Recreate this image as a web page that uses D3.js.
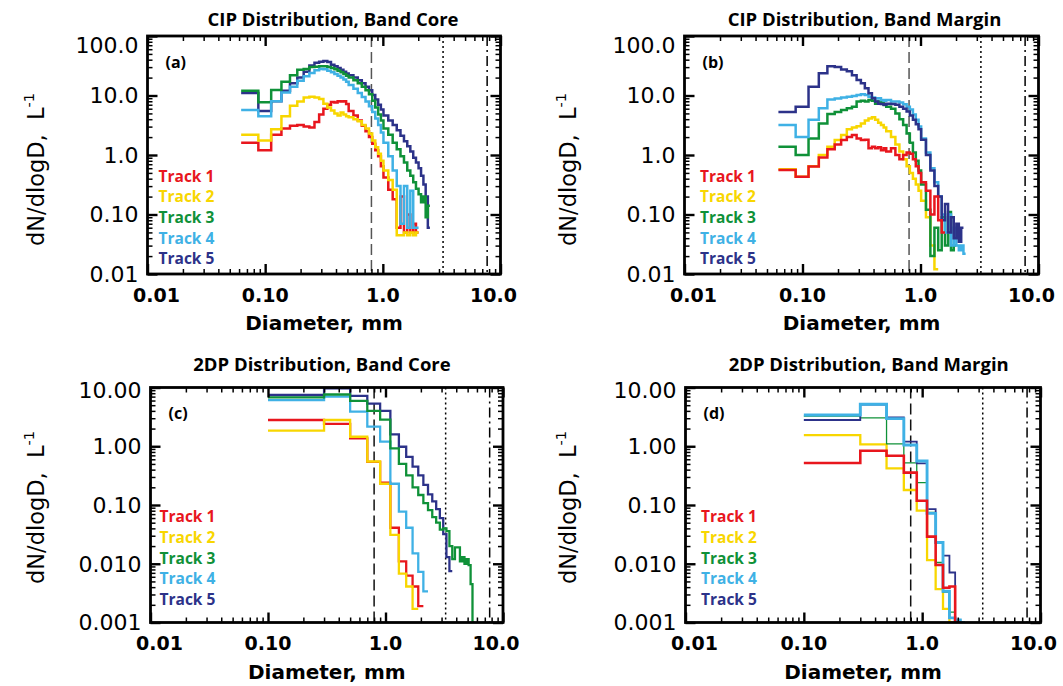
<!DOCTYPE html>
<html>
<head>
<meta charset="utf-8">
<script src="https://cdn.jsdelivr.net/npm/d3@7"></script>
<style>
  body { margin: 0; background: #fff; }
</style>
</head>
<body>
<div id="chart"></div>
<script>
// CIP bin edges (mm), 25 um bins then merged
var cipEdges = [0.0625, 0.0875, 0.1125, 0.1375, 0.1625, 0.1875, 0.2125, 0.2375, 0.2625, 0.2875,
  0.3125, 0.3375, 0.3625, 0.3875, 0.4125, 0.4375, 0.4625, 0.4875, 0.5125,
  0.5625, 0.6125, 0.6625, 0.7125, 0.7625, 0.8125, 0.8625, 0.9125, 0.9625, 1.0125,
  1.1125, 1.2125, 1.3125, 1.4125, 1.5125, 1.6125, 1.7125, 1.8125, 1.9125, 2.0125,
  2.1125, 2.2125, 2.3125, 2.4125, 2.5125];
// 2DP bin edges (mm), 200 um bins
var dpEdges = [0.1, 0.3, 0.5, 0.7, 0.9, 1.1, 1.3, 1.5, 1.7, 1.9, 2.1, 2.3, 2.5, 2.7, 2.9,
  3.1, 3.3, 3.5, 3.7, 3.9, 4.1, 4.3, 4.5, 4.7, 4.9, 5.1, 5.3, 5.5, 5.7];

var trackNames = ['Track 1', 'Track 2', 'Track 3', 'Track 4', 'Track 5'];
var trackColors = ['#e8161d', '#f8d600', '#0f9138', '#3fb1e5', '#2c3289'];

// dN/dlogD (L^-1) per bin, one row per track
var cipCore = [
  [1.6, 1.2, 2.2, 2.8, 3.1, 3.2, 3.0, 2.9, 3.6, 4.8, 6.0, 7.0, 7.8, 7.6, 8.0, 7.9, 8.0, 7.2,
   5.5, 4.6, 3.8, 3.1, 2.5, 2.0, 1.55, 1.2, 0.95, 0.65, 0.42, 0.26, 0.18, 0.06, 0.2, 0.05, 0.1, 0.05, 0.07, 0.05],
  [2.2, 1.75, 2.7, 4.5, 6.7, 7.9, 9.3, 9.5, 9.3, 8.7, 7.3, 6.3, 5.6, 5.0, 4.6, 5.2, 4.8, 4.5,
   4.3, 4.0, 3.7, 3.2, 2.8, 2.3, 1.75, 1.35, 1.05, 0.8, 0.55, 0.38, 0.26, 0.045, 0.045, 0.05, 0.045, 0.05, 0.045, 0.05],
  [12, 7.7, 12.4, 17, 22, 27, 28, 30, 30.5, 31, 31, 30, 29, 27.5, 26, 24.5, 23, 21.5,
   20, 18, 16, 14, 12.3, 10.5, 8.2, 6.3, 4.8, 3.8, 2.8, 2.2, 1.6, 1.25, 0.95, 0.75, 0.55, 0.45, 0.35, 0.27,
   0.22, 0.16, 0.2, 0.09, 0.14],
  [5.7, 4.5, 8.0, 11.2, 14, 17.7, 21, 24, 26.5, 28, 27.5, 26, 24.5, 23, 21.5, 20, 18.5, 17,
   15, 13, 11, 9.4, 7.9, 6.6, 5.3, 4.1, 3.2, 2.4, 1.6, 0.95, 0.55, 0.3, 0.07, 0.3, 0.06, 0.25, 0.06, 0.06],
  [11, 5.5, 8.0, 12, 16, 20, 25, 32, 35.5, 37, 38, 36.5, 33, 31, 29, 27, 25, 23.5,
   22, 20, 18, 16, 14, 12.2, 10.2, 8.6, 7.0, 5.8, 4.6, 3.8, 3.2, 2.6, 2.1, 1.7, 1.4, 1.15, 0.9, 0.75,
   0.6, 0.45, 0.32, 0.2, 0.06]
];

var cipMargin = [
  [0.56, 0.43, 0.64, 0.91, 1.25, 1.5, 1.79, 2.0, 2.17, 1.9, 1.79, 1.8, 1.3, 1.38, 1.3, 1.35, 1.2, 1.3,
   1.15, 1.3, 1.0, 0.85, 1.0, 1.1, 1.05, 0.85, 0.65, 0.5, 0.35, 0.25, 0.1, 0.2, 0.08, 0.05],
  [0.575, 0.43, 0.65, 1.0, 1.38, 1.79, 2.17, 2.7, 2.9, 3.05, 3.4, 3.8, 4.1, 4.3, 3.9, 3.5, 3.2, 2.9,
   2.5, 2.0, 1.5, 1.15, 0.85, 0.65, 0.5, 0.4, 0.32, 0.25, 0.17, 0.09, 0.03, 0.012],
  [1.38, 1.0, 1.9, 3.4, 4.9, 5.3, 5.7, 6.1, 6.5, 7.9, 8.2, 7.9, 8.4, 8.2, 7.3, 7.9, 7.6, 6.9,
   6.5, 6.0, 5.0, 4.0, 3.2, 2.3, 1.6, 1.1, 0.8, 0.55, 0.32, 0.12, 0.02, 0.06, 0.025, 0.09, 0.03, 0.11, 0.025, 0.03],
  [3.2, 2.0, 3.9, 6.1, 8.6, 8.9, 9.3, 9.5, 9.8, 10.2, 10.5, 10.2, 9.5, 9.3, 8.9, 9.0, 8.4, 8.2,
   8.4, 7.9, 7.9, 7.6, 7.1, 6.5, 5.8, 4.8, 3.9, 3.0, 1.9, 1.1, 0.6, 0.35, 0.2, 0.1, 0.05, 0.1, 0.03, 0.06,
   0.03, 0.025, 0.03, 0.022],
  [5.3, 6.5, 14, 23.6, 31, 30, 27.3, 25.5, 22, 18.2, 16, 13.2, 10.9, 9.0, 7.9, 7.3, 7.2, 7.0,
   7.3, 7.2, 7.0, 6.5, 6.0, 5.4, 4.6, 3.9, 3.3, 2.7, 1.8, 1.0, 0.55, 0.3, 0.2, 0.08, 0.15, 0.05, 0.09, 0.04,
   0.07, 0.035, 0.06]
];

var dpCore = [
  [2.8, 2.4, 1.36, 0.54, 0.24, 0.041, 0.011, 0.0063, 0.0041, 0.0019],
  [1.84, 2.8, 1.45, 0.55, 0.23, 0.031, 0.0068, 0.0041, 0.0017],
  [6.8, 7.6, 5.9, 4.0, 2.85, 0.92, 0.5, 0.32, 0.2, 0.148, 0.108, 0.082, 0.062, 0.05, 0.038, 0.04,
   0.036, 0.02, 0.012, 0.019, 0.019, 0.011, 0.013, 0.01, 0.012, 0.0095, 0.0045, 0],
  [6.1, 7.0, 3.9, 2.15, 1.2, 0.23, 0.077, 0.041, 0.015, 0.0073, 0.0034],
  [7.45, 9.7, 7.2, 5.3, 4.0, 1.59, 0.98, 0.66, 0.45, 0.32, 0.22, 0.152, 0.115, 0.085, 0.06, 0.032,
   0.013, 0.0075]
];

var dpMargin = [
  [0.52, 0.84, 0.69, 0.355, 0.118, 0.029, 0.0095, 0.0039, 0.0041, 0],
  [1.55, 1.08, 0.42, 0.18, 0.08, 0.0115, 0.0037, 0.0017, 0],
  [3.25, 3.05, 1.1, 0.52, 0.24, 0.075, 0.0105, 0.0033, 0.0015, 0],
  [3.4, 5.2, 2.95, 1.05, 0.56, 0.072, 0.023, 0.0034, 0.0012, 0.0011, 0],
  [2.8, 5.1, 3.1, 1.2, 0.51, 0.085, 0.023, 0.0137, 0.0071, 0.0011, 0]
];

var xTickValues = [0.01, 0.1, 1, 10];
var xTickLabels = ['0.01', '0.10', '1.0', '10.0'];
var cipYTickValues = [0.01, 0.1, 1, 10, 100];
var cipYTickLabels = ['0.01', '0.10', '1.0', '10.0', '100.0'];
var dpYTickValues = [0.001, 0.01, 0.1, 1, 10];
var dpYTickLabels = ['0.001', '0.010', '0.10', '1.00', '10.00'];

// reference diameters (mm): dashed, dotted, dash-dot
var refDiameters = [0.8, 3.25, 7.7];
var refDash = ['11,5', '2,3', '10,4,2,4'];

var width = 1063;
var height = 686;

var panels = [
  {tag: '(a)', title: 'CIP Distribution, Band Core', edges: cipEdges, values: cipCore,
   yTicks: cipYTickValues, yLabels: cipYTickLabels, yTopShift: 9, dashColor: '#555',
   widths: [2.5, 2.5, 2.5, 2.5, 2.5], order: [0, 1, 4, 2, 3],
   left: 147.5, right: 500.5, top: 36, bottom: 274, titleX: 333, titleY: 26,
   legendX: 158.5, legendY: 176, ylabX: 44, ylabY: 246},
  {tag: '(b)', title: 'CIP Distribution, Band Margin', edges: cipEdges, values: cipMargin,
   yTicks: cipYTickValues, yLabels: cipYTickLabels, yTopShift: 9, dashColor: '#555',
   widths: [2.5, 2.5, 2.5, 2.5, 2.5], order: [1, 2, 3, 4, 0],
   left: 684.5, right: 1038.5, top: 36, bottom: 274, titleX: 864.5, titleY: 26,
   legendX: 700, legendY: 176, ylabX: 576, ylabY: 246},
  {tag: '(c)', title: '2DP Distribution, Band Core', edges: dpEdges, values: dpCore,
   yTicks: dpYTickValues, yLabels: dpYTickLabels, yTopShift: 3, dashColor: '#111',
   widths: [2.3, 2.3, 2.3, 2.3, 2.3], order: [0, 1, 3, 4, 2],
   left: 150.5, right: 503, top: 387.5, bottom: 622.5, titleX: 322, titleY: 370.5,
   legendX: 159.5, legendY: 516.7, ylabX: 44, ylabY: 584},
  {tag: '(d)', title: '2DP Distribution, Band Margin', edges: dpEdges, values: dpMargin,
   yTicks: dpYTickValues, yLabels: dpYTickLabels, yTopShift: 3, dashColor: '#111',
   widths: [2.6, 2.3, 1.3, 2.9, 1.8], order: [1, 2, 4, 3, 0],
   left: 685.5, right: 1040.5, top: 387.5, bottom: 622.5, titleX: 868.7, titleY: 370.5,
   legendX: 701, legendY: 516.7, ylabX: 576, ylabY: 584}
];

var svg = d3.select('#chart')
            .append('svg')
            .attr('width', width)
            .attr('height', height)
            .style('background', '#fff');

function minorTicks(lo, hi) {
  var out = [];
  for (var e = Math.round(Math.log10(lo)); e < Math.round(Math.log10(hi)); e++) {
    for (var k = 2; k <= 9; k++) out.push(k * Math.pow(10, e));
  }
  return out;
}

function stepPoints(edges, vals) {
  var pts = [];
  var last = -1;
  vals.forEach(function(v, i) {
    if (v != null) { pts.push([edges[i], v]); last = i; }
  });
  pts.push([edges[last + 1], vals[last]]);
  return pts;
}

panels.forEach(function(p, pi) {
  var yMin = p.yTicks[0];
  var yMax = p.yTicks[p.yTicks.length - 1];

  var xScale = d3.scaleLog().domain([0.01, 10]).range([p.left, p.right]);
  var yScale = d3.scaleLog().domain([yMin, yMax]).range([p.bottom, p.top]);

  var g = svg.append('g');

  g.append('clipPath')
   .attr('id', 'clip' + pi)
   .append('rect')
   .attr('x', p.left).attr('y', p.top)
   .attr('width', p.right - p.left).attr('height', p.bottom - p.top);

  // reference diameter lines
  refDiameters.forEach(function(d, i) {
    g.append('line')
     .attr('x1', xScale(d)).attr('x2', xScale(d))
     .attr('y1', p.top).attr('y2', p.bottom)
     .attr('stroke', i === 0 ? p.dashColor : '#000')
     .attr('stroke-width', 1.5)
     .attr('stroke-dasharray', refDash[i]);
  });

  // size distributions
  var line = d3.line()
               .x(function(d) { return xScale(d[0]); })
               .y(function(d) { return yScale(Math.max(d[1], yMin)); })
               .curve(d3.curveStepAfter);

  var lines = g.append('g').attr('clip-path', 'url(#clip' + pi + ')');
  p.order.forEach(function(ti) {
    lines.append('path')
         .attr('d', line(stepPoints(p.edges, p.values[ti])))
         .attr('fill', 'none')
         .attr('stroke', trackColors[ti])
         .attr('stroke-width', p.widths[ti])
         .attr('stroke-linejoin', 'miter');
  });

  // axes with inward ticks on all four sides
  var minorX = minorTicks(0.01, 10);
  var minorY = minorTicks(yMin, yMax);
  var axes = [
    [d3.axisBottom(xScale), xTickValues, minorX, 'translate(0,' + p.bottom + ')'],
    [d3.axisTop(xScale), xTickValues, minorX, 'translate(0,' + p.top + ')'],
    [d3.axisLeft(yScale), p.yTicks, minorY, 'translate(' + p.left + ',0)'],
    [d3.axisRight(yScale), p.yTicks, minorY, 'translate(' + p.right + ',0)']
  ];
  axes.forEach(function(a) {
    var ag = g.append('g').attr('transform', a[3]);
    ag.call(a[0].tickValues(a[2]).tickSize(-5).tickSizeOuter(0).tickFormat(''));
    ag.selectAll('line').attr('stroke-width', 1.5);
    ag.select('.domain').remove();
    var mg = g.append('g').attr('transform', a[3]);
    mg.call(a[0].tickValues(a[1]).tickSize(-10).tickSizeOuter(0).tickFormat(''));
    mg.selectAll('line').attr('stroke-width', 2.4);
    mg.select('.domain').remove();
  });

  g.append('rect')
   .attr('x', p.left).attr('y', p.top)
   .attr('width', p.right - p.left).attr('height', p.bottom - p.top)
   .attr('fill', 'none')
   .attr('stroke', '#000')
   .attr('stroke-width', 2.8);

  // x tick labels
  xTickValues.forEach(function(v, i) {
    var shift = i === 0 ? 9 : (i === xTickValues.length - 1 ? -7 : 0);
    g.append('text')
     .attr('x', xScale(v) + shift)
     .attr('y', p.bottom + 27.5)
     .attr('text-anchor', 'middle')
     .style('font-family', 'DejaVu Sans')
     .style('font-weight', 'bold')
     .style('font-size', '19px')
     .text(xTickLabels[i]);
  });

  // y tick labels
  p.yTicks.forEach(function(v, i) {
    var shift = i === p.yTicks.length - 1 ? p.yTopShift : 0;
    g.append('text')
     .attr('x', p.left - 9)
     .attr('y', yScale(v) + shift)
     .attr('dy', '0.36em')
     .attr('text-anchor', 'end')
     .style('font-family', 'DejaVu Sans')
     .style('font-size', '22px')
     .text(p.yLabels[i]);
  });

  // axis titles
  g.append('text')
   .attr('x', (p.left + p.right) / 2)
   .attr('y', p.bottom + 56)
   .attr('text-anchor', 'middle')
   .style('font-family', 'DejaVu Sans')
   .style('font-weight', 'bold')
   .style('font-size', '20px')
   .text('Diameter, mm');

  var yl = g.append('text')
            .attr('transform', 'translate(' + p.ylabX + ',' + p.ylabY + ') rotate(-90)')
            .style('font-family', 'DejaVu Sans')
            .style('font-size', '22.5px');
  yl.append('tspan').text('dN/dlogD,\u00a0\u00a0L');
  yl.append('tspan').attr('dy', -10).style('font-size', '14.5px').text('-1');

  g.append('text')
   .attr('x', p.titleX)
   .attr('y', p.titleY)
   .attr('text-anchor', 'middle')
   .style('font-family', 'Open Sans')
   .style('font-weight', 'bold')
   .style('font-size', '18.5px')
   .text(p.title);

  g.append('text')
   .attr('x', p.left + 18)
   .attr('y', p.top + 26)
   .attr('dy', '0.36em')
   .style('font-family', 'Open Sans')
   .style('font-weight', 'bold')
   .style('font-size', '16px')
   .text(p.tag);

  // legend
  trackNames.forEach(function(name, i) {
    g.append('text')
     .attr('x', p.legendX)
     .attr('y', p.legendY + i * 20.7)
     .attr('dy', '0.36em')
     .attr('fill', trackColors[i])
     .style('font-family', 'Open Sans')
     .style('font-weight', 'bold')
     .style('font-size', '15.5px')
     .text(name);
  });
});
</script>
</body>
</html>
